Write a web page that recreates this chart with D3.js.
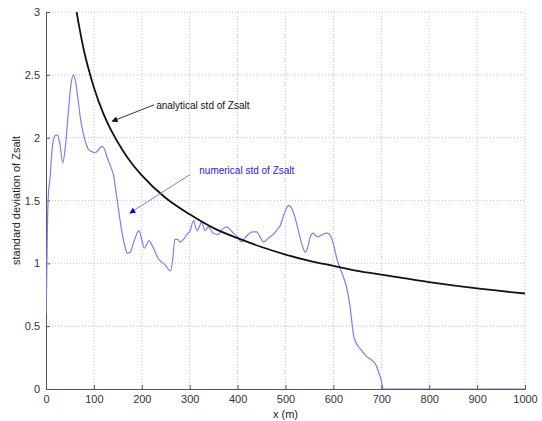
<!DOCTYPE html>
<html><head><meta charset="utf-8">
<script src="https://cdn.jsdelivr.net/npm/d3@7"></script>
<style>body{margin:0;background:#fff;}svg{display:block;font-family:"Liberation Sans",Arial,sans-serif;}</style>
</head><body>
<svg id="c" width="542" height="421"></svg>
<script>
const xTicks = [0,100,200,300,400,500,600,700,800,900,1000];
const yTicks = [0,0.5,1,1.5,2,2.5,3];
const yTickLabels = ["0","0.5","1","1.5","2","2.5","3"];

const analyticX = [62,64,70,80,90,100,120,140,160,180,200,250,300,350,400,450,500,550,600,650,700,800,900,1000];
const analyticY = [3.05,3.0,2.87,2.68,2.53,2.40,2.19,2.03,1.90,1.79,1.70,1.52,1.39,1.28,1.20,1.13,1.07,1.02,0.98,0.94,0.91,0.85,0.80,0.76];

const numericX = [0,1,3,5,8,14,20,24,29,35,41,47,52,57,62,67,72,78,83,88,95,102,109,116,122,127,134,141,148,158,165,170,176,184,194,200,205,210,215,222,234,248,260,265,269,275,280,287,294,301,308,315,320,325,332,339,349,360,368,377,384,391,400,408,415,422,431,440,447,454,461,468,477,485,489,495,500,506,511,516,523,530,536,541,546,551,558,563,568,577,586,592,596,601,607,614,621,628,635,642,647,652,660,669,676,683,689,694,699,702,704,720,800,900,1000];
const numericY = [0.60,0.76,1.30,1.55,1.66,1.95,2.02,2.02,1.95,1.80,1.95,2.22,2.42,2.50,2.44,2.30,2.15,2.03,1.96,1.91,1.89,1.88,1.90,1.93,1.91,1.85,1.78,1.70,1.52,1.26,1.13,1.08,1.09,1.18,1.26,1.19,1.12,1.15,1.18,1.14,1.04,0.99,0.94,1.05,1.19,1.19,1.17,1.19,1.23,1.26,1.34,1.26,1.29,1.33,1.26,1.29,1.24,1.23,1.27,1.29,1.27,1.24,1.21,1.17,1.20,1.23,1.25,1.25,1.21,1.17,1.19,1.21,1.24,1.28,1.30,1.37,1.42,1.46,1.45,1.41,1.32,1.21,1.13,1.09,1.12,1.20,1.24,1.22,1.21,1.23,1.24,1.23,1.20,1.14,1.04,0.96,0.89,0.80,0.65,0.43,0.37,0.34,0.30,0.26,0.24,0.22,0.19,0.14,0.08,0.03,0,0,0,0,0];

const svg = d3.select("#c");
const x = d3.scaleLinear().domain([0,1000]).range([46,525]);
const y = d3.scaleLinear().domain([0,3]).range([389,12]);

const g = svg.append("g");
// grid
g.selectAll(".gx").data(xTicks.slice(1)).enter().append("line")
  .attr("x1",d=>x(d)).attr("x2",d=>x(d)).attr("y1",y(0)).attr("y2",y(3))
  .attr("stroke","#c4c4c4").attr("stroke-width",1).attr("stroke-dasharray","1,2");
g.selectAll(".gy").data(yTicks.slice(1)).enter().append("line")
  .attr("x1",x(0)).attr("x2",x(1000)).attr("y1",d=>y(d)).attr("y2",d=>y(d))
  .attr("stroke","#c4c4c4").attr("stroke-width",1).attr("stroke-dasharray","1,2");

// axes
const xAxis = d3.axisBottom(x).tickValues(xTicks).tickSize(-4).tickPadding(6).tickFormat(d3.format("d"));
const yAxis = d3.axisLeft(y).tickValues(yTicks).tickSize(-4).tickPadding(6).tickFormat((d,i)=>yTickLabels[i]);
const ax = svg.append("g").attr("transform",`translate(0,${y(0)})`).call(xAxis);
const ay = svg.append("g").attr("transform",`translate(${x(0)},0)`).call(yAxis);
[ax,ay].forEach(a=>{
  a.select(".domain").attr("stroke","#555").attr("stroke-width",1);
  a.selectAll(".tick line").attr("stroke","#555");
  a.selectAll("text").attr("fill","#333").style("font-size","11px").style("font-family","'Liberation Sans',Arial,sans-serif");
});

// clip
svg.append("clipPath").attr("id","clip").append("rect")
  .attr("x",x(0)).attr("y",y(3)).attr("width",x(1000)-x(0)).attr("height",y(0)-y(3));

const line = d3.line().x(d=>x(d[0])).y(d=>y(d[1])).curve(d3.curveMonotoneX);

svg.append("path").datum(numericX.map((v,i)=>[v,numericY[i]]))
  .attr("d",line).attr("fill","none").attr("stroke","#7d7dfb").attr("stroke-width",1.2)
  .attr("clip-path","url(#clip)");

svg.append("path").datum(analyticX.map((v,i)=>[v,analyticY[i]]))
  .attr("d",line).attr("fill","none").attr("stroke","#111").attr("stroke-width",1.8)
  .attr("clip-path","url(#clip)");

// arrow markers
const defs = svg.append("defs");
function marker(id,color){
  defs.append("marker").attr("id",id).attr("viewBox","0 0 10 10").attr("refX",9).attr("refY",5)
    .attr("markerWidth",8).attr("markerHeight",6).attr("markerUnits","userSpaceOnUse").attr("orient","auto")
    .append("path").attr("d","M0,0L10,5L0,10Z").attr("fill",color);
}
marker("mb","#111");
marker("mblue","#0000ff");

// annotations
svg.append("line").attr("x1",x(226)).attr("y1",y(2.262)).attr("x2",x(138)).attr("y2",y(2.13))
  .attr("stroke","#333").attr("stroke-width",1).attr("marker-end","url(#mb)");
svg.append("text").attr("x",x(230)).attr("y",y(2.262)+4).text("analytical std of Zsalt")
  .attr("fill","#111").style("font-size","10px");

svg.append("line").attr("x1",x(300)).attr("y1",y(1.705)).attr("x2",x(175)).attr("y2",y(1.40))
  .attr("stroke","#7878fa").attr("stroke-width",1).attr("marker-end","url(#mblue)");
svg.append("text").attr("x",x(320)).attr("y",y(1.74)+4).text("numerical std of Zsalt")
  .attr("fill","#2020ff").style("font-size","10px");

// labels
svg.append("text").attr("x",(x(0)+x(1000))/2).attr("y",418).attr("text-anchor","middle")
  .text("x (m)").attr("fill","#222").style("font-size","11px");
svg.append("text").attr("transform",`translate(20,${y(1.5)}) rotate(-90)`).attr("text-anchor","middle")
  .text("standard deviation of Zsalt").attr("fill","#222").style("font-size","11px");
</script>
</body></html>
